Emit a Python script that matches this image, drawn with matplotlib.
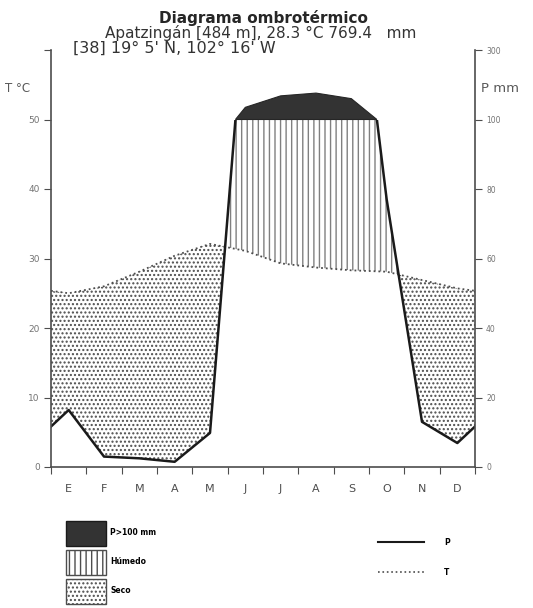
import numpy as np
import matplotlib.pyplot as plt
from matplotlib.patches import Patch, Rectangle
from matplotlib.lines import Line2D

# monthly data (Apatzingán)
months = ['E', 'F', 'M', 'A', 'M', 'J', 'J', 'A', 'S', 'O', 'N', 'D']
temp = [25.0, 26.0, 28.1, 30.4, 32.1, 31.1, 29.3, 28.7, 28.3, 28.1, 26.9, 25.7]
prec = [16.4, 3.0, 2.5, 1.5, 9.8, 135, 168, 176, 160, 77, 13, 6.9]
left_ticks = ['0', '10', '20', '30', '40', '50', '']
right_ticks = ['0', '20', '40', '60', '80', '100', '300']

title1 = 'Diagrama ombrotérmico'
title2 = 'Apatzingán [484 m], 28.3 °C 769.4   mm'
title3 = '[38] 19° 5\' N, 102° 16\' W'

# month centres, plus both edges (value = mean of Dec and Jan)
x = np.concatenate([[0], np.arange(12) + 0.5, [12]])
T = np.array(temp)
P = np.array(prec)
T = np.concatenate([[(T[0] + T[-1]) / 2], T, [(T[0] + T[-1]) / 2]])
P = np.concatenate([[(P[0] + P[-1]) / 2], P, [(P[0] + P[-1]) / 2]])
Pt = P / 2.0                         # 10 °C = 20 mm
Pc = np.where(P > 100, 50 + (P - 100) / 20.0, Pt)   # compressed above 100 mm

fig = plt.figure(figsize=(5.33, 6.08), dpi=100)
ax = fig.add_axes([51 / 533, 141 / 608, 424 / 533, 417 / 608])
ax.set_xlim(0, 12)
ax.set_ylim(0, 60)

clip = Rectangle((0, 0), 12, 50, transform=ax.transData)

# dry period
dry = ax.fill_between(x, Pt, T, where=T >= Pt, interpolate=True,
                      facecolor='white', edgecolor='0.3', hatch='....', linewidth=0)
# humid period
wet = ax.fill_between(x, T, Pt, where=Pt >= T, interpolate=True,
                      facecolor='white', edgecolor='0.5', hatch='|||', linewidth=0)
wet.set_clip_path(clip)

# P > 100 mm: from where the line crosses 100 mm, over the compressed values
bx, by = [], []
for i in range(len(x) - 1):
    if (Pt[i] - 50) * (Pt[i + 1] - 50) < 0:
        f = (50 - Pt[i]) / (Pt[i + 1] - Pt[i])
        bx.append(x[i] + f * (x[i + 1] - x[i]))
        by.append(50)
    if Pt[i + 1] > 50:
        bx.append(x[i + 1])
        by.append(Pc[i + 1])
ax.fill(bx, by, facecolor='0.2', edgecolor='0.15', linewidth=0.8)

# lines
ax.plot(x, T, color='0.3', linestyle=':', linewidth=1.3)
pl, = ax.plot(x, Pt, color='0.1', linewidth=1.8)
pl.set_clip_path(clip)

ax.spines['top'].set_visible(False)
for s in ['left', 'right', 'bottom']:
    ax.spines[s].set_color('0.3')
    ax.spines[s].set_linewidth(1.2)

ax.set_xticks(np.arange(13))
ax.set_xticklabels([])
ax.set_xticks(np.arange(12) + 0.5, minor=True)
ax.set_xticklabels(months, minor=True, fontsize=8, color='0.3')
ax.tick_params(axis='x', which='major', direction='out', length=5, color='0.3')
ax.tick_params(axis='x', which='minor', length=0, pad=12)

ax.set_yticks(np.arange(0, 61, 10))
ax.set_yticklabels(left_ticks, fontsize=6.5, color='0.45')
ax.tick_params(axis='y', direction='out', length=5, color='0.3', pad=3)

ax2 = ax.twinx()
ax2.set_ylim(0, 60)
ax2.set_yticks(np.arange(0, 61, 10))
ax2.set_yticklabels(right_ticks, fontsize=5.5, color='0.45')
ax2.tick_params(axis='y', direction='out', length=5, color='0.3', pad=3)
for s in ['top', 'left', 'bottom', 'right']:
    ax2.spines[s].set_visible(False)

fig.text(0.494, 0.970, title1, ha='center', va='center', fontsize=11, fontweight='bold', color='0.15')
fig.text(0.489, 0.946, title2, ha='center', va='center', fontsize=11, color='0.2')
fig.text(0.137, 0.920, title3, ha='left', va='center', fontsize=11.5, color='0.2')
fig.text(0.010, 0.855, 'T °C', ha='left', va='center', fontsize=8.5, color='0.35')
fig.text(0.902, 0.855, 'P mm', ha='left', va='center', fontsize=9.5, color='0.35')

h1 = [Patch(facecolor='0.2', edgecolor='0.1'),
      Patch(facecolor='white', edgecolor='0.3', hatch='|||'),
      Patch(facecolor='white', edgecolor='0.3', hatch='....')]
fig.legend(h1, ['P>100 mm', 'Húmedo', 'Seco'], loc='upper left',
           bbox_to_anchor=(60 / 533, 1 - 515 / 608), frameon=False,
           prop={'size': 5.5, 'weight': 'bold'}, handlelength=5.2, handleheight=4.6,
           labelspacing=0.55, handletextpad=0.6, borderpad=0.3)

h2 = [Line2D([], [], color='0.1', linewidth=1.5),
      Line2D([], [], color='0.3', linewidth=1.2, linestyle=':')]
fig.legend(h2, ['P', 'T'], loc='upper left',
           bbox_to_anchor=(372 / 533, 1 - 532 / 608), frameon=False,
           prop={'size': 5.5, 'weight': 'bold'}, handlelength=6.0,
           labelspacing=2.7, handletextpad=2.6, borderpad=0.3)

fig.savefig('out.png', dpi=100)
